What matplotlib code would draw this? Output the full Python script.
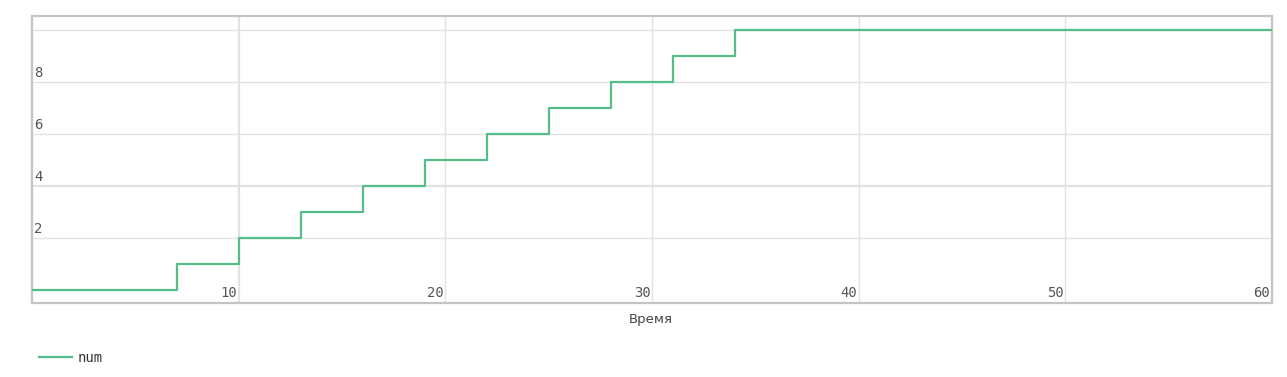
import matplotlib
matplotlib.use('Agg')
import matplotlib.pyplot as plt
import matplotlib.transforms as mtransforms

# step times and counts
vremya = [0, 7, 10, 13, 16, 19, 22, 25, 28, 31, 34, 60]
num = [0, 1, 2, 3, 4, 5, 6, 7, 8, 9, 10, 10]
xticks = [10, 20, 30, 40, 50, 60]
yticks = [2, 4, 6, 8]
ygrid = [2, 4, 6, 8, 10]

green = '#56bd8a'
frame = '#c4c4c4'
grid = '#e2e2e2'
txt = '#555555'

plt.rcParams['font.family'] = ['DejaVu Sans Mono']

fig = plt.figure(figsize=(12.87, 3.77), dpi=100)
ax = fig.add_axes([32 / 1287, 74 / 377, 1240 / 1287, 287 / 377])

ax.set_xlim(0, 60)
ax.set_ylim(-0.5, 10.54)

for x in xticks[:-1]:
    ax.axvline(x, color=grid, lw=1.6 if x == 10 else 1.0, zorder=1)
for y in ygrid:
    ax.axhline(y, color=grid, lw=1.6 if y == 4 else 1.0, zorder=1)

ax.step(vremya, num, where='post', color=green, lw=1.6, zorder=3, label='num')

ax.set_xticks([])
ax.set_yticks([])
for s in ax.spines.values():
    s.set_color(frame)
    s.set_linewidth(1.6)

# tick labels drawn inside the plot area
bx = mtransforms.blended_transform_factory(ax.transData, ax.transAxes)
by = mtransforms.blended_transform_factory(ax.transAxes, ax.transData)
for x in xticks:
    ax.text(x - 0.08, 0.012, str(x), transform=bx, ha='right', va='bottom',
            fontsize=10, color=txt)
for y in yticks:
    ax.text(0.002, y + 0.08, str(y), transform=by, ha='left', va='bottom',
            fontsize=10, color=txt)

fig.text(651 / 1287, 1 - 319 / 377, 'Время', ha='center', va='center',
         fontsize=9.5, color='#444444', family=['DejaVu Sans'])

leg = fig.legend(loc='center left', bbox_to_anchor=(26 / 1287, 1 - 358 / 377),
                 frameon=False, fontsize=10, handlelength=2.4, handletextpad=0.4)
for t in leg.get_texts():
    t.set_color('#333333')

fig.savefig('out.png', dpi=100)
